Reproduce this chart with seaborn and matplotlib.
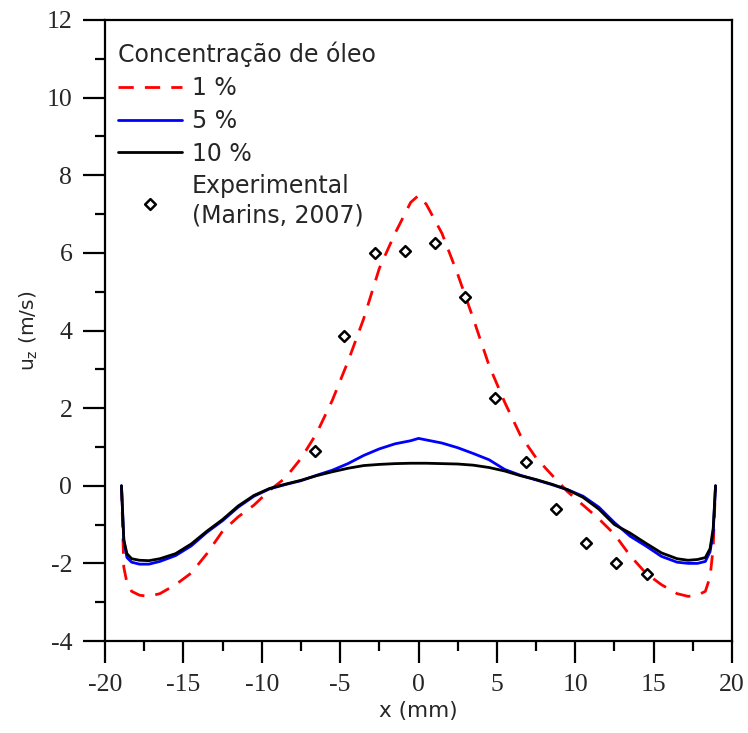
import numpy as np
import pandas as pd
import matplotlib
matplotlib.use("Agg")
import matplotlib.pyplot as plt
import seaborn as sns
from matplotlib.ticker import MultipleLocator

# ---- data ----
x_model = [-18.95, -18.8, -18.6, -18.3, -17.8, -17.2, -16.5, -15.5, -14.5, -13.5,
           -12.5, -11.5, -10.5, -9.5, -8.5, -7.5, -6.5, -5.5, -4.5, -3.5, -2.5,
           -1.5, -0.5, 0.0, 0.5, 1.5, 2.5, 3.5, 4.5, 5.5, 6.5, 7.5, 8.5, 9.5,
           10.5, 11.5, 12.5, 13.5, 14.5, 15.5, 16.5, 17.2, 17.8, 18.3, 18.6,
           18.8, 18.95]

u_1pct = [0.0, -2.1, -2.5, -2.72, -2.82, -2.85, -2.78, -2.55, -2.25, -1.75,
          -1.17, -0.8, -0.5, -0.12, 0.2, 0.7, 1.35, 2.2, 3.2, 4.3, 5.6,
          6.5, 7.3, 7.48, 7.25, 6.5, 5.45, 4.3, 3.1, 2.15, 1.3, 0.72, 0.28, -0.15,
          -0.5, -0.85, -1.25, -1.8, -2.25, -2.55, -2.78, -2.85, -2.82, -2.72, -2.35,
          -1.6, 0.0]

u_5pct = [0.0, -1.4, -1.85, -1.97, -2.02, -2.02, -1.95, -1.8, -1.55, -1.2,
          -0.9, -0.55, -0.27, -0.08, 0.03, 0.13, 0.27, 0.4, 0.57, 0.78, 0.95,
          1.08, 1.16, 1.22, 1.18, 1.1, 0.98, 0.83, 0.67, 0.42, 0.27, 0.15, 0.03, -0.1,
          -0.27, -0.55, -0.95, -1.3, -1.55, -1.82, -1.97, -2.0, -2.0, -1.95, -1.7,
          -1.2, 0.0]

u_10pct = [0.0, -1.4, -1.75, -1.88, -1.92, -1.93, -1.88, -1.75, -1.5, -1.17,
           -0.87, -0.52, -0.25, -0.07, 0.04, 0.14, 0.26, 0.36, 0.45, 0.52, 0.55,
           0.57, 0.58, 0.58, 0.58, 0.57, 0.56, 0.53, 0.47, 0.38, 0.26, 0.16, 0.04, -0.1,
           -0.3, -0.6, -1.0, -1.22, -1.48, -1.73, -1.88, -1.92, -1.9, -1.85, -1.62,
           -1.1, 0.0]

x_exp = [-6.6, -4.75, -2.8, -0.86, 1.05, 2.97, 4.85, 6.85, 8.77, 10.7, 12.6, 14.6]
u_exp = [0.89, 3.85, 6.0, 6.05, 6.25, 4.87, 2.25, 0.62, -0.6, -1.48, -2.0, -2.28]

series_labels = ["1 %", "5 %", "10 %"]
exp_label = "Experimental\n(Marins, 2007)"
legend_title = "Concentração de óleo"
x_label = "x (mm)"
y_label = r"u$_\mathregular{z}$ (m/s)"

# ---- style ----
sns.set_style("ticks")
plt.rcParams["font.family"] = ["DejaVu Sans"]
plt.rcParams["axes.unicode_minus"] = False

fig = plt.figure(figsize=(7.48, 7.33), dpi=100)
ax = fig.add_axes([105 / 748, 92 / 733, 627 / 748, 621 / 733])

df = pd.DataFrame({"x": x_model, "u1": u_1pct, "u5": u_5pct, "u10": u_10pct})

sns.lineplot(data=df, x="x", y="u1", ax=ax, color="#ff0000", lw=2.0,
             linestyle=(0, (5.5, 4.0)), label=series_labels[0], sort=False)
sns.lineplot(data=df, x="x", y="u5", ax=ax, color="#0000ff", lw=2.0,
             label=series_labels[1], sort=False)
sns.lineplot(data=df, x="x", y="u10", ax=ax, color="black", lw=2.0,
             label=series_labels[2], sort=False)
sns.scatterplot(x=x_exp, y=u_exp, ax=ax, marker="D", s=30, color="white",
                edgecolor="black", linewidth=1.8, label=exp_label, zorder=5)

ax.set_xlim(-20, 20)
ax.set_ylim(-4, 12)
ax.xaxis.set_major_locator(MultipleLocator(5))
ax.xaxis.set_minor_locator(MultipleLocator(2.5))
ax.yaxis.set_major_locator(MultipleLocator(2))
ax.yaxis.set_minor_locator(MultipleLocator(1))

for sp in ax.spines.values():
    sp.set_linewidth(1.6)
    sp.set_color("black")
    sp.set_visible(True)

ax.tick_params(which="major", direction="out", length=15.5, width=1.6,
               color="black", pad=8)
ax.tick_params(which="minor", direction="out", length=7, width=1.6, color="black")
ax.tick_params(top=False, right=False, which="both")
for lab in ax.get_xticklabels() + ax.get_yticklabels():
    lab.set_fontfamily("Liberation Serif")
    lab.set_fontsize(18.5)

ax.set_xlabel(x_label, fontsize=15.5, labelpad=4)
ax.set_ylabel(y_label, fontsize=14.5, labelpad=5)

handles, labels = ax.get_legend_handles_labels()
leg = ax.legend(handles, labels, title=legend_title, loc="upper left",
                bbox_to_anchor=(0.010, 0.976), frameon=False, fontsize=17,
                title_fontsize=17, handlelength=2.7, handletextpad=0.42,
                labelspacing=0.37, alignment="left", borderaxespad=0.0,
                borderpad=0.3)
for t in leg.get_texts():
    t.set_linespacing(1.28)

fig.savefig("out.png", dpi=100)
